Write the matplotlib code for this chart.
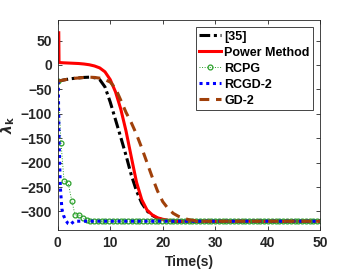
import numpy as np
import matplotlib
matplotlib.use("Agg")
import matplotlib.pyplot as plt

plt.rcParams['font.family'] = ['Liberation Sans', 'DejaVu Sans']
plt.rcParams['font.weight'] = 'bold'

# [35]
t_ref = [0, 1, 2, 3, 4, 5, 6, 7, 8, 9, 10, 11, 12, 13, 14, 15, 16, 17, 18, 19, 20, 21, 22, 24, 50]
y_ref = [-34, -31, -29, -27.5, -26.5, -25.5, -25, -26, -30, -45, -76, -112, -148, -185, -225,
         -258, -283, -299, -308, -314, -317, -319, -320, -320, -320]

# Power Method
t_pm = [0.2, 0.25, 1, 2, 3, 4, 5, 6, 7, 8, 9, 10, 11, 12, 13, 14, 15, 16, 17, 18, 19, 20, 21, 22, 23, 50]
y_pm = [66, 5, 4.5, 4, 3.5, 3, 2, 0.5, -2, -6, -14, -30, -55, -90, -135, -188, -240, -276,
        -297, -307, -313, -316, -318, -319.5, -320, -320]

# RCPG
t_rcpg_head = [0, 0.63, 1.2, 2.0, 2.7, 3.3, 4.1, 4.9, 5.5]
y_rcpg_head = [-33, -160, -237, -242, -279, -307, -307, -314, -318]
t_rcpg = t_rcpg_head + list(np.arange(6.2, 50.2, 0.72))
y_rcpg = y_rcpg_head + [-320] * (len(t_rcpg) - len(t_rcpg_head))

# RCGD-2
t_rcgd = [0.1, 0.25, 0.5, 0.8, 1.1, 1.5, 2.0, 2.4, 2.8, 3.2, 50]
y_rcgd = [-33, -150, -250, -295, -308, -318, -325, -327, -323, -320, -320]

# GD-2
t_gd = [0, 1, 2, 3, 4, 5, 6, 7, 8, 9, 10, 11, 12, 13, 14, 15, 16, 17, 18, 19, 20, 21, 22,
        23, 24, 25, 26, 27, 28, 50]
y_gd = [-33, -31, -29, -27.5, -26.5, -25.5, -25, -25.5, -27, -30, -35, -48, -72, -97, -118,
        -142, -170, -200, -230, -258, -280, -294, -304, -310, -314, -317, -318.5, -319.5, -320, -320]

fig = plt.figure(figsize=(3.54, 2.73), dpi=100)
ax = fig.add_axes([0.163, 0.1575, 0.742, 0.769])

ax.plot(t_ref, y_ref, color='black', lw=2.2, ls=(0, (3.5, 1.2, 1, 1.2)), label='[35]')
ax.plot(t_pm, y_pm, color='red', lw=2.2, label='Power Method')
ax.plot(t_rcpg, y_rcpg, color='#2ca02c', lw=0.7, ls=':', marker='o', ms=3.5,
        mfc='none', mec='#2ca02c', mew=0.9, label='RCPG')
ax.plot(t_rcgd, y_rcgd, color='blue', lw=2.2, ls=(0, (1, 1.2)), label='RCGD-2')
ax.plot(t_gd, y_gd, color='#a0400a', lw=2.2, ls=(0, (3.2, 2.2)), label='GD-2')

ax.set_xlim(0, 50)
ax.set_ylim(-338, 92)
ax.set_xticks([0, 10, 20, 30, 40, 50])
ax.set_yticks([-300, -250, -200, -150, -100, -50, 0, 50])
ax.tick_params(direction='in', top=True, right=True, length=3, width=0.6,
               labelsize=10, colors='#262626', pad=4)
for lab in ax.get_xticklabels() + ax.get_yticklabels():
    lab.set_fontweight('bold')
for s in ax.spines.values():
    s.set_color('#262626')
    s.set_linewidth(0.6)

ax.set_xlabel('Time(s)', fontsize=10, fontweight='bold', color='#262626')
ax.set_ylabel(r'$\lambda_\mathbf{k}$', fontsize=10, color='#262626', labelpad=3)

leg = ax.legend(loc='upper right', prop={'weight': 'bold', 'size': 9},
                handlelength=1.7, handletextpad=0.3, labelspacing=0.32,
                borderaxespad=0.55, borderpad=0.3, fancybox=False, framealpha=1)
leg.get_frame().set_edgecolor('#262626')
leg.get_frame().set_linewidth(0.6)

fig.savefig('out.png', dpi=100)
